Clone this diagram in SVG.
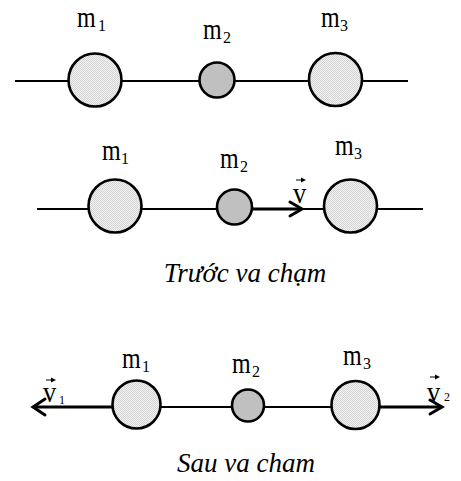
<svg xmlns="http://www.w3.org/2000/svg" width="461" height="481" viewBox="0 0 461 481">
<defs>
<pattern id="dots" width="2" height="2" patternUnits="userSpaceOnUse">
<rect width="2" height="2" fill="#f2f2f2"/>
<rect width="1" height="1" fill="#d4d4d4"/>
<rect x="1" y="1" width="1" height="1" fill="#d4d4d4"/>
</pattern>
<style>
.big{fill:url(#dots);stroke:#000;stroke-width:2.6}
.small{fill:#c0c0c0;stroke:#000;stroke-width:2.6}
.ln{stroke:#000;stroke-width:2;fill:none}
.thk{stroke:#000;stroke-width:3;fill:none}
.hd{stroke:#000;stroke-width:3;fill:none;stroke-linecap:round;stroke-linejoin:miter}
.va{stroke:#000;stroke-width:1;fill:none}
.vh{fill:#000;stroke:none}
text{font-family:"Liberation Serif","Times New Roman",serif;fill:#000}
.m{font-size:24px}
.s{font-size:16px}
.vs{font-size:12px}
.cap{font-size:27px;font-style:italic}
</style>
</defs>
<g id="connectors">
<line class="ln" x1="15" y1="81" x2="408" y2="81"/>
<line class="ln" x1="37" y1="209" x2="423" y2="209"/>
<line class="thk" x1="252" y1="209" x2="302" y2="209"/>
<polyline class="hd" points="290,202 302,209 290,216"/>
<line class="ln" x1="112" y1="407" x2="380" y2="407"/>
<line class="thk" x1="34" y1="407" x2="112" y2="407"/>
<polyline class="hd" points="45,399 33,407 45,415"/>
<line class="thk" x1="380" y1="407" x2="441" y2="407"/>
<polyline class="hd" points="430,400 442,407 430,414"/>
</g>
<g id="row1">
<g id="r1-m1"><circle class="big" cx="95" cy="80" r="26.5"/><text class="m" transform="translate(77,27) scale(1,1.25)">m</text><text class="s" x="98" y="31">1</text></g>
<g id="r1-m2"><circle class="small" cx="217" cy="80" r="17.5"/><text class="m" transform="translate(203,39) scale(1,1.25)">m</text><text class="s" x="223" y="43">2</text></g>
<g id="r1-m3"><circle class="big" cx="335.5" cy="79.5" r="26.5"/><text class="m" transform="translate(321,27) scale(1,1.25)">m</text><text class="s" x="340" y="31">3</text></g>
</g>
<g id="row2">
<g id="r2-m1"><circle class="big" cx="115" cy="206" r="26.5"/><text class="m" transform="translate(102,160) scale(1,1.25)">m</text><text class="s" x="121" y="164">1</text></g>
<g id="r2-m2"><circle class="small" cx="234.5" cy="207" r="17.5"/><text class="m" transform="translate(220,168) scale(1,1.25)">m</text><text class="s" x="240" y="172">2</text></g>
<g id="r2-m3"><circle class="big" cx="350.5" cy="206" r="26.5"/><text class="m" transform="translate(335,155) scale(1,1.25)">m</text><text class="s" x="354" y="159">3</text></g>
<g id="r2-v"><text class="m" transform="translate(293,203) scale(1.1,1.25)">v</text><line class="va" x1="296" y1="180" x2="303" y2="180"/><path class="vh" d="M306,180 L301,177.5 L301,182.5 Z"/></g>
<text class="cap" x="245" y="282" text-anchor="middle">Trước va chạm</text>
</g>
<g id="row3">
<g id="r3-m1"><circle class="big" cx="136.5" cy="404.5" r="24"/><text class="m" transform="translate(122,368) scale(1,1.25)">m</text><text class="s" x="142" y="372">1</text></g>
<g id="r3-m2"><circle class="small" cx="248" cy="405.5" r="16"/><text class="m" transform="translate(232,373) scale(1,1.25)">m</text><text class="s" x="252" y="377">2</text></g>
<g id="r3-m3"><circle class="big" cx="355.5" cy="405" r="24"/><text class="m" transform="translate(343,365) scale(1,1.25)">m</text><text class="s" x="363" y="369">3</text></g>
<g id="r3-v1"><text class="m" transform="translate(43,402) scale(1.1,1.25)">v</text><line class="va" x1="46" y1="380" x2="53" y2="380"/><path class="vh" d="M56,380 L51,377.5 L51,382.5 Z"/><text class="vs" x="59" y="404">1</text></g>
<g id="r3-v2"><text class="m" transform="translate(427,402) scale(1.1,1.25)">v</text><line class="va" x1="430" y1="377" x2="437" y2="377"/><path class="vh" d="M440,377 L435,374.5 L435,379.5 Z"/><text class="vs" x="444" y="401">2</text></g>
<text class="cap" x="246" y="472" text-anchor="middle">Sau va cham</text>
</g>
</svg>
